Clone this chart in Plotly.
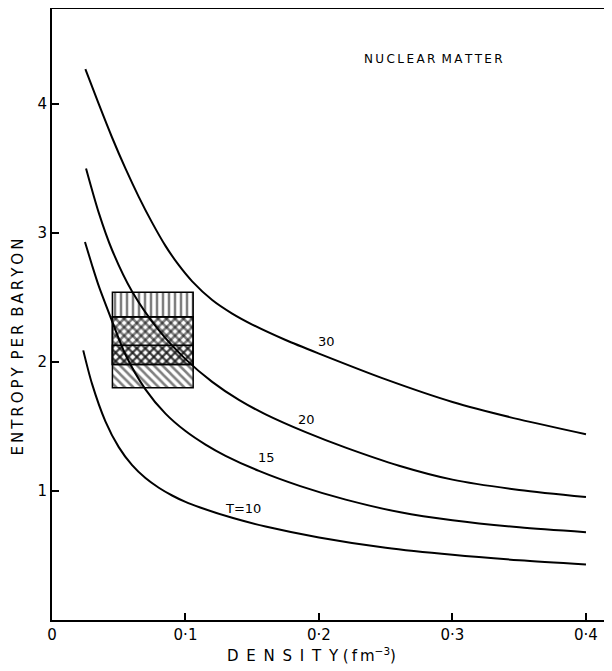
import plotly.graph_objects as go

# ---- data ----
x_T30 = [0.025, 0.035, 0.045, 0.055, 0.065, 0.075, 0.085, 0.095, 0.105, 0.12, 0.135, 0.15, 0.175, 0.20, 0.25, 0.30, 0.35, 0.40]
y_T30 = [4.27, 4.00, 3.74, 3.50, 3.28, 3.08, 2.90, 2.75, 2.625, 2.48, 2.375, 2.29, 2.17, 2.065, 1.865, 1.69, 1.555, 1.44]

x_T20 = [0.0255, 0.035, 0.045, 0.06, 0.08, 0.10, 0.12, 0.14, 0.16, 0.19, 0.22, 0.26, 0.30, 0.35, 0.40]
y_T20 = [3.50, 3.158, 2.868, 2.546, 2.246, 2.022, 1.846, 1.706, 1.594, 1.456, 1.336, 1.196, 1.088, 1.008, 0.953]

x_T15 = [0.0247, 0.03, 0.035, 0.0434, 0.055, 0.07, 0.085, 0.10, 0.115, 0.13, 0.155, 0.186, 0.22, 0.261, 0.30, 0.35, 0.40]
y_T15 = [2.93, 2.75, 2.59, 2.36, 2.058, 1.788, 1.60, 1.465, 1.36, 1.273, 1.156, 1.038, 0.933, 0.835, 0.773, 0.718, 0.68]

x_T10 = [0.0234, 0.03, 0.04, 0.05, 0.06, 0.07, 0.08, 0.09, 0.10, 0.111, 0.1356, 0.16, 0.20, 0.25, 0.30, 0.35, 0.40]
y_T10 = [2.09, 1.83, 1.54, 1.34, 1.20, 1.10, 1.025, 0.965, 0.915, 0.872, 0.79, 0.725, 0.64, 0.56, 0.505, 0.463, 0.43]

curve_labels = ["30", "20", "15", "T=10"]
label_x = [0.206, 0.191, 0.161, 0.143]
label_y = [2.16, 1.556, 1.261, 0.866]

# hatched boxes: density range and entropy ranges
box_x_center = 0.0755
box_x_width = 0.0605
box_low = [1.80, 1.98, 1.98, 2.35]
box_high = [2.35, 2.35, 2.13, 2.54]
box_shapes = ["\\", "/", "x", "|"]

x_tickvals = [0, 0.1, 0.2, 0.3, 0.4]
x_ticktext = ["0", "0·1", "0·2", "0·3", "0·4"]
y_tickvals = [1, 2, 3, 4]
y_ticktext = ["1", "2", "3", "4"]

FONT = "DejaVu Sans"
TS = "\u2009"

fig = go.Figure()

for lo, hi, shp in zip(box_low, box_high, box_shapes):
    fig.add_trace(go.Bar(
        x=[box_x_center], y=[hi - lo], base=[lo], width=[box_x_width],
        marker=dict(color="rgba(0,0,0,0)",
                    line=dict(color="black", width=1.5),
                    pattern=dict(shape=shp, fgcolor="black", size=6,
                                 solidity=0.42, fillmode="overlay")),
        showlegend=False, hoverinfo="skip"))

for xs, ys in [(x_T30, y_T30), (x_T20, y_T20), (x_T15, y_T15), (x_T10, y_T10)]:
    fig.add_trace(go.Scatter(x=xs, y=ys, mode="lines",
                             line=dict(color="black", width=2, shape="spline", smoothing=0.8),
                             showlegend=False, hoverinfo="skip"))

for t, lx, ly in zip(curve_labels, label_x, label_y):
    fig.add_annotation(x=lx, y=ly, text=t, showarrow=False,
                       font=dict(family=FONT, size=13, color="black"))

fig.add_annotation(x=0.286, y=4.35, text=TS.join("NUCLEAR") + TS + " " + TS.join("MATTER"),
                   showarrow=False, font=dict(family=FONT, size=12, color="black"))

# axis titles
fig.add_annotation(xref="paper", yref="paper", x=0.464, y=-0.0573,
                   text=(" " + TS).join("DENSITY") + " (" + TS + "f" + TS + "m<sup>−3</sup>)",
                   showarrow=False, xanchor="center", yanchor="middle",
                   font=dict(family=FONT, size=15, color="black"))
fig.add_annotation(xref="paper", yref="paper", x=-0.0607, y=0.446,
                   text=TS.join("ENTROPY") + TS + " " + TS.join("PER") + TS + " " + TS.join("BARYON"),
                   textangle=-90, showarrow=False, xanchor="center", yanchor="middle",
                   font=dict(family=FONT, size=15, color="black"))

fig.update_layout(
    width=604, height=663,
    margin=dict(l=44, r=0, t=1, b=51),
    paper_bgcolor="white", plot_bgcolor="white",
    barmode="overlay",
    font=dict(family=FONT, size=15, color="black"),
    xaxis=dict(range=[0, 0.4195], tickvals=x_tickvals, ticktext=x_ticktext,
               ticks="inside", ticklen=7, tickwidth=1.5, tickcolor="black",
               showline=True, linecolor="black", linewidth=2, mirror=True,
               showgrid=False, zeroline=False, automargin=False),
    yaxis=dict(range=[0, 4.736], tickvals=y_tickvals, ticktext=y_ticktext,
               ticks="inside", ticklen=7, tickwidth=1.5, tickcolor="black",
               showline=True, linecolor="black", linewidth=2,
               showgrid=False, zeroline=False, automargin=False),
)

fig.write_html("out.html")
